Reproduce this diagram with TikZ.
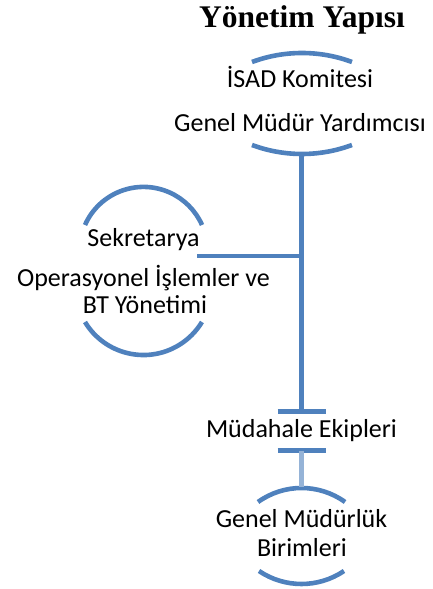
\documentclass[tikz,border=0pt]{standalone}
\usepackage{fontspec}
\setmainfont{Carlito}
\newfontfamily\titlefont{Liberation Serif}
\definecolor{accent}{HTML}{4F81BD}
\definecolor{accentlight}{HTML}{95B3D7}
\begin{document}
\begin{tikzpicture}[x=1pt,y=1pt,
  lbl/.style={inner sep=0, anchor=base, font=\fontsize{26}{30}\selectfont},
  arcline/.style={draw=accent, line width=4.6pt},
  conn/.style={draw=accent, line width=4.4pt},
  connlight/.style={draw=accentlight, line width=4.4pt},
  tbar/.style={draw=accent, line width=5pt}]
\useasboundingbox (0,0) rectangle (433,589);
\node[inner sep=0, anchor=base, font=\titlefont\bfseries\fontsize{31.5}{36}\selectfont] (title) at (302,561) {Yönetim Yapısı};
% top shape
\node[lbl] (isad) at (300,501) {İSAD Komitesi};
\node[lbl] (gmy) at (300,457) {Genel Müdür Yardımcısı};
\draw[arcline] (252,527) arc[start angle=110.4, end angle=69.6, radius=143.4];
\draw[arcline] (252,444) arc[start angle=249.6, end angle=290.4, radius=143.4];
% left shape
\node[lbl] (sek) at (143.5,342) {Sekretarya};
\node[lbl] (ops) at (143.5,302) {Operasyonel İşlemler ve};
\node[lbl] (bt) at (145,275) {BT Yönetimi};
\draw[arcline] (85,364) arc[start angle=156.1, end angle=23.9, radius=64];
\draw[arcline] (85,267) arc[start angle=211.1, end angle=328.9, radius=68.3];
% teams
\node[lbl] (mud) at (301.5,151) {Müdahale Ekipleri};
% bottom shape
\node[lbl] (gmb) at (301.5,61) {Genel Müdürlük};
\node[lbl] (bir) at (302,32) {Birimleri};
\draw[arcline] (258,87) arc[start angle=125.7, end angle=54.3, radius=74.6];
\draw[arcline] (259,18) arc[start angle=236, end angle=304, radius=76];
% connectors
\coordinate (topc) at (301.5,435);
\coordinate (tb1) at (301.5,177);
\coordinate (tb2) at (301.5,138);
\coordinate (gmtop) at (301.5,102);
\coordinate (sekr) at (197,333);
\draw[conn] (topc) -- (tb1);
\draw[conn] (sekr) -- (sekr -| topc);
\draw[tbar] ([xshift=-24pt]tb1) -- ([xshift=24pt]tb1);
\draw[tbar] ([xshift=-24pt]tb2) -- ([xshift=24pt]tb2);
\draw[connlight] (tb2) -- (gmtop);
\end{tikzpicture}
\end{document}
